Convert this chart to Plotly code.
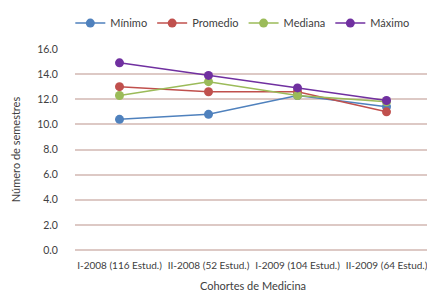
import plotly.graph_objects as go

categories = ["I-2008 (116 Estud.)", "II-2008 (52 Estud.)", "I-2009 (104 Estud.)", "II-2009 (64 Estud.)"]
minimo = [10.4, 10.8, 12.3, 11.4]
promedio = [13.0, 12.6, 12.6, 11.0]
mediana = [12.3, 13.4, 12.3, 11.8]
maximo = [14.9, 13.9, 12.9, 11.9]
y_ticks = [0, 2, 4, 6, 8, 10, 12, 14, 16]

series = [
    ("Mínimo", minimo, "#4F81BD"),
    ("Promedio", promedio, "#C0504D"),
    ("Mediana", mediana, "#9BBB59"),
    ("Máximo", maximo, "#7030A0"),
]

fig = go.Figure()
for name, vals, col in series:
    fig.add_trace(go.Scatter(
        x=categories, y=vals, name=name, mode="lines+markers",
        line=dict(color=col, width=1.5),
        marker=dict(color=col, size=9),
    ))

font = dict(family="Lato, Open Sans, sans-serif", size=10.5, color="#404040")
fig.update_layout(
    width=435, height=302,
    margin=dict(l=67, r=12, t=41, b=60, autoexpand=False),
    paper_bgcolor="white", plot_bgcolor="white",
    font=font,
    showlegend=True,
    legend=dict(orientation="h", x=0.47, xanchor="center", yref="container",
                y=0.998, yanchor="top",
                font=dict(size=11), itemwidth=30, tracegroupgap=0),
    xaxis=dict(
        type="category", showgrid=False, zeroline=False, showline=False,
        ticks="outside", ticklen=6, tickcolor="rgba(0,0,0,0)",
        tickfont=dict(size=10), tickangle=0,
        title=dict(text="Cohortes de Medicina", font=dict(size=11), standoff=12),
        range=[-0.5, 3.5],
    ),
    yaxis=dict(
        range=[0, 16], tickvals=y_ticks, tickformat=".1f",
        showgrid=True, gridcolor="#DDC9C5", gridwidth=1.5,
        zeroline=True, zerolinecolor="#DDC9C5", zerolinewidth=1.5,
        showline=False,
        ticks="outside", ticklen=14, tickcolor="rgba(0,0,0,0)",
        tickfont=dict(size=10.5),
        title=dict(text="Número de semestres", font=dict(size=11), standoff=14),
    ),
)
fig.write_html("out.html")
